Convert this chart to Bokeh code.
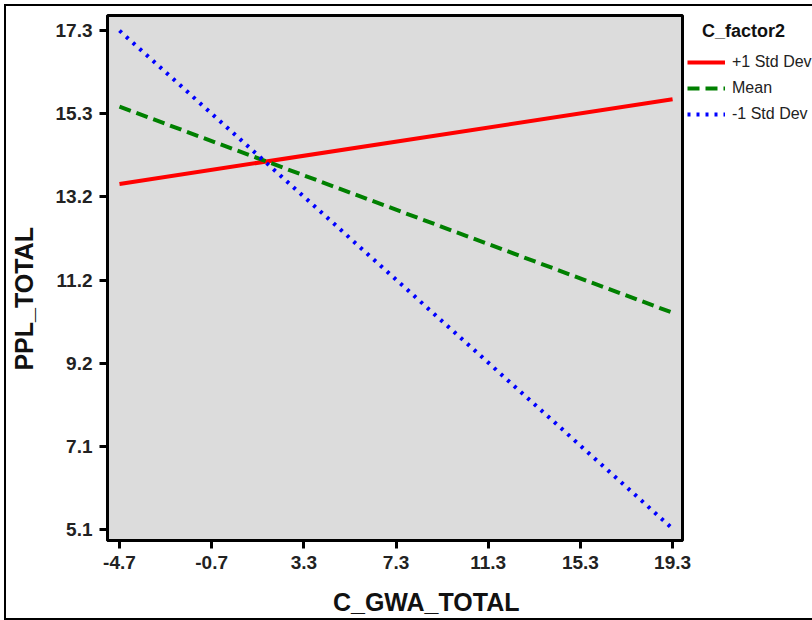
from bokeh.plotting import figure
from bokeh.models import Range1d, FixedTicker, Legend, LegendItem, CustomJSTickFormatter
from bokeh.embed import file_html
from bokeh.resources import INLINE

# ---- data ----
x_ends = [-4.7, 19.3]
series_names = ["+1 Std Dev", "Mean", "-1 Std Dev"]
plus1_y = [13.55, 15.62]
mean_y = [15.44, 10.40]
minus1_y = [17.30, 5.12]
x_ticks = [-4.7, -0.7, 3.3, 7.3, 11.3, 15.3, 19.3]
y_tick_lo, y_tick_hi, y_tick_n = 5.1, 17.3, 7
y_ticks = [y_tick_lo + i * (y_tick_hi - y_tick_lo) / (y_tick_n - 1) for i in range(y_tick_n)]
legend_title = "C_factor2"
x_title = "C_GWA_TOTAL"
y_title = "PPL_TOTAL"

FONT = "Liberation Sans"
NB = "\u00a0"

p = figure(frame_width=575, frame_height=525, output_backend="svg", toolbar_location=None,
           x_range=Range1d(-5.22, 19.73), y_range=Range1d(4.83, 17.67),
           min_border_left=101, min_border_right=130, min_border_top=9, min_border_bottom=77)
p.styles = {"border-top": "2px solid #000", "border-left": "2px solid #000",
            "border-bottom": "2px solid #000", "margin-left": "4px", "margin-top": "4px"}

p.background_fill_color = "#dcdcdc"
p.border_fill_color = "white"
p.outline_line_color = "black"
p.outline_line_width = 3
p.grid.visible = False

for ax in (p.xaxis, p.yaxis):
    ax.axis_line_width = 3
    ax.axis_line_color = "black"
    ax.major_tick_line_width = 3
    ax.major_tick_line_color = "black"
    ax.major_tick_out = 8
    ax.major_tick_in = 0
    ax.minor_tick_line_color = None
    ax.major_label_text_font = FONT
    ax.major_label_text_font_style = "bold"
    ax.major_label_text_font_size = "19px"
    ax.major_label_text_color = "#222222"
    ax.axis_label_text_font = FONT
    ax.axis_label_text_font_style = "bold"
    ax.axis_label_text_font_size = "25px"
    ax.axis_label_text_color = "#111111"

p.xaxis.ticker = FixedTicker(ticks=x_ticks)
p.yaxis.ticker = FixedTicker(ticks=y_ticks)
p.xaxis.formatter = CustomJSTickFormatter(code="return tick.toFixed(1);")
p.yaxis.formatter = CustomJSTickFormatter(code="return tick.toFixed(1);")
p.xaxis.axis_label = NB * 9 + x_title
p.yaxis.axis_label = y_title + NB * 6
p.xaxis.major_label_standoff = 7
p.yaxis.major_label_standoff = 7
p.xaxis.axis_label_standoff = 16
p.yaxis.axis_label_standoff = 15

r1 = p.line(x_ends, plus1_y, line_color="#ff0000", line_width=4)
r2 = p.line(x_ends, mean_y, line_color="#008000", line_width=4, line_dash="12 6")
r3 = p.line(x_ends, minus1_y, line_color="#0000ff", line_width=4, line_dash="3 6")

legend = Legend(items=[LegendItem(label=series_names[0], renderers=[r1]),
                       LegendItem(label=series_names[1], renderers=[r2]),
                       LegendItem(label=series_names[2], renderers=[r3])],
                location=(5, 416), orientation="vertical",
                title=NB * 3 + legend_title,
                title_text_font=FONT, title_text_font_style="bold", title_text_font_size="18px",
                title_text_color="#111111", title_standoff=10,
                glyph_width=38, glyph_height=20, label_height=20, label_standoff=7,
                spacing=6, padding=0, margin=0,
                label_text_font=FONT, label_text_font_size="16px", label_text_color="#222222",
                background_fill_alpha=0, border_line_alpha=0)
p.add_layout(legend, "right")

open("out.html", "w").write(file_html(p, INLINE))
